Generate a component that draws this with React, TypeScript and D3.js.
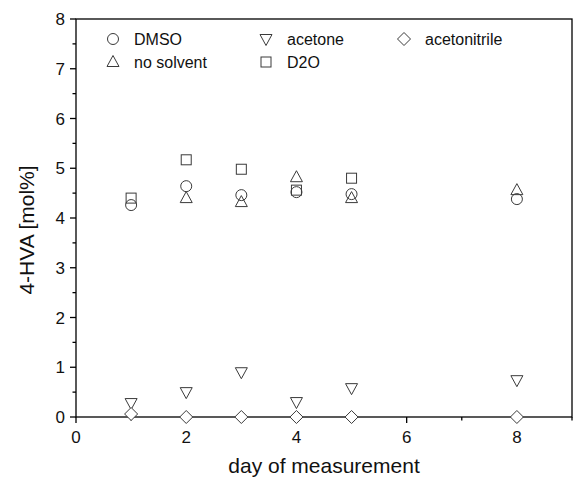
import React from "react";
import * as d3 from "d3";

const days = [1, 2, 3, 4, 5, 8];
const dmso = [4.26, 4.64, 4.46, 4.52, 4.48, 4.38];
const noSolventDays = [2, 3, 4, 5, 8];
const noSolvent = [4.4, 4.32, 4.82, 4.4, 4.56];
const d2oDays = [1, 2, 3, 4, 5];
const d2o = [4.4, 5.17, 4.98, 4.56, 4.8];
const acetone = [0.28, 0.5, 0.9, 0.3, 0.58, 0.74];
const acetonitrile = [0.06, 0, 0, 0, 0, 0];

const xTicks = [0, 2, 4, 6, 8];
const xMinor = [1, 3, 5, 7, 9];
const yTicks = [0, 1, 2, 3, 4, 5, 6, 7, 8];
const yMinor = [0.5, 1.5, 2.5, 3.5, 4.5, 5.5, 6.5, 7.5];

const W = 573;
const H = 478;
const left = 76;
const right = 572;
const top = 19;
const bottom = 417;

const x = d3.scaleLinear().domain([0, 9]).range([left, right]);
const y = d3.scaleLinear().domain([0, 8]).range([bottom, top]);

type Shape = "circle" | "up" | "down" | "square" | "diamond";
const stroke = "#3a3a3a";

function Marker({ shape, cx, cy }: { shape: Shape; cx: number; cy: number }) {
  const common = { fill: "none", stroke, strokeWidth: 1 };
  if (shape === "circle") return <circle cx={cx} cy={cy} r={5.5} {...common} />;
  if (shape === "square") return <rect x={cx - 5} y={cy - 5} width={10} height={10} {...common} />;
  if (shape === "up")
    return <path d={`M${cx},${cy - 6.5}L${cx + 6},${cy + 4.5}L${cx - 6},${cy + 4.5}Z`} {...common} />;
  if (shape === "down")
    return <path d={`M${cx},${cy + 6.5}L${cx + 6},${cy - 4.5}L${cx - 6},${cy - 4.5}Z`} {...common} />;
  return <path d={`M${cx},${cy - 6.5}L${cx + 6.5},${cy}L${cx},${cy + 6.5}L${cx - 6.5},${cy}Z`} fill="#fff" stroke={stroke} strokeWidth={1} />;
}

const series: { name: string; shape: Shape; xs: number[]; ys: number[] }[] = [
  { name: "DMSO", shape: "circle", xs: days, ys: dmso },
  { name: "no solvent", shape: "up", xs: noSolventDays, ys: noSolvent },
  { name: "D2O", shape: "square", xs: d2oDays, ys: d2o },
  { name: "acetone", shape: "down", xs: days, ys: acetone },
  { name: "acetonitrile", shape: "diamond", xs: days, ys: acetonitrile },
];

const legend: { name: string; shape: Shape; lx: number; ly: number }[] = [
  { name: "DMSO", shape: "circle", lx: 113, ly: 39 },
  { name: "no solvent", shape: "up", lx: 113, ly: 62 },
  { name: "acetone", shape: "down", lx: 266, ly: 39 },
  { name: "D2O", shape: "square", lx: 266, ly: 62 },
  { name: "acetonitrile", shape: "diamond", lx: 404, ly: 39 },
];

export default function App() {
  const font = "'Liberation Sans', Arial, sans-serif";
  return (
    <svg width={W} height={H} style={{ position: "absolute", left: 0, top: 0, background: "#fff" }} fontFamily={font}>
      <rect width={W} height={H} fill="#fff" />
      {/* frame */}
      <rect x={left} y={top} width={right - left} height={bottom - top} fill="none" stroke="#000" strokeWidth={1.3} />
      {/* y ticks */}
      {yTicks.map((t) => (
        <g key={"y" + t}>
          <line x1={left - 6} x2={left} y1={y(t)} y2={y(t)} stroke="#000" strokeWidth={1.3} />
          <text x={left - 11} y={y(t) + 6} textAnchor="end" fontSize={17} fill="#111">
            {t}
          </text>
        </g>
      ))}
      {yMinor.map((t) => (
        <line key={"ym" + t} x1={left - 3.5} x2={left} y1={y(t)} y2={y(t)} stroke="#000" strokeWidth={1.3} />
      ))}
      {/* x ticks */}
      {xTicks.map((t) => (
        <g key={"x" + t}>
          <line x1={x(t)} x2={x(t)} y1={bottom} y2={bottom + 6} stroke="#000" strokeWidth={1.3} />
          <text x={x(t)} y={bottom + 26} textAnchor="middle" fontSize={17} fill="#111">
            {t}
          </text>
        </g>
      ))}
      {xMinor.map((t) => (
        <line key={"xm" + t} x1={x(t)} x2={x(t)} y1={bottom} y2={bottom + 3.5} stroke="#000" strokeWidth={1.3} />
      ))}
      {/* axis titles */}
      <text x={(left + right) / 2} y={473} textAnchor="middle" fontSize={21} fill="#111">
        day of measurement
      </text>
      <text transform={`translate(34,${(top + bottom) / 2 + 12}) rotate(-90)`} textAnchor="middle" fontSize={21} fill="#111">
        4-HVA [mol%]
      </text>
      {/* data */}
      {series.map((s) =>
        s.xs.map((d, i) => <Marker key={s.name + i} shape={s.shape} cx={x(d)} cy={y(s.ys[i])} />)
      )}
      {/* legend */}
      {legend.map((l) => (
        <g key={"l" + l.name}>
          <Marker shape={l.shape} cx={l.lx} cy={l.ly} />
          <text x={l.lx + 21} y={l.ly + 5.5} fontSize={16} fill="#111">
            {l.name}
          </text>
        </g>
      ))}
    </svg>
  );
}
